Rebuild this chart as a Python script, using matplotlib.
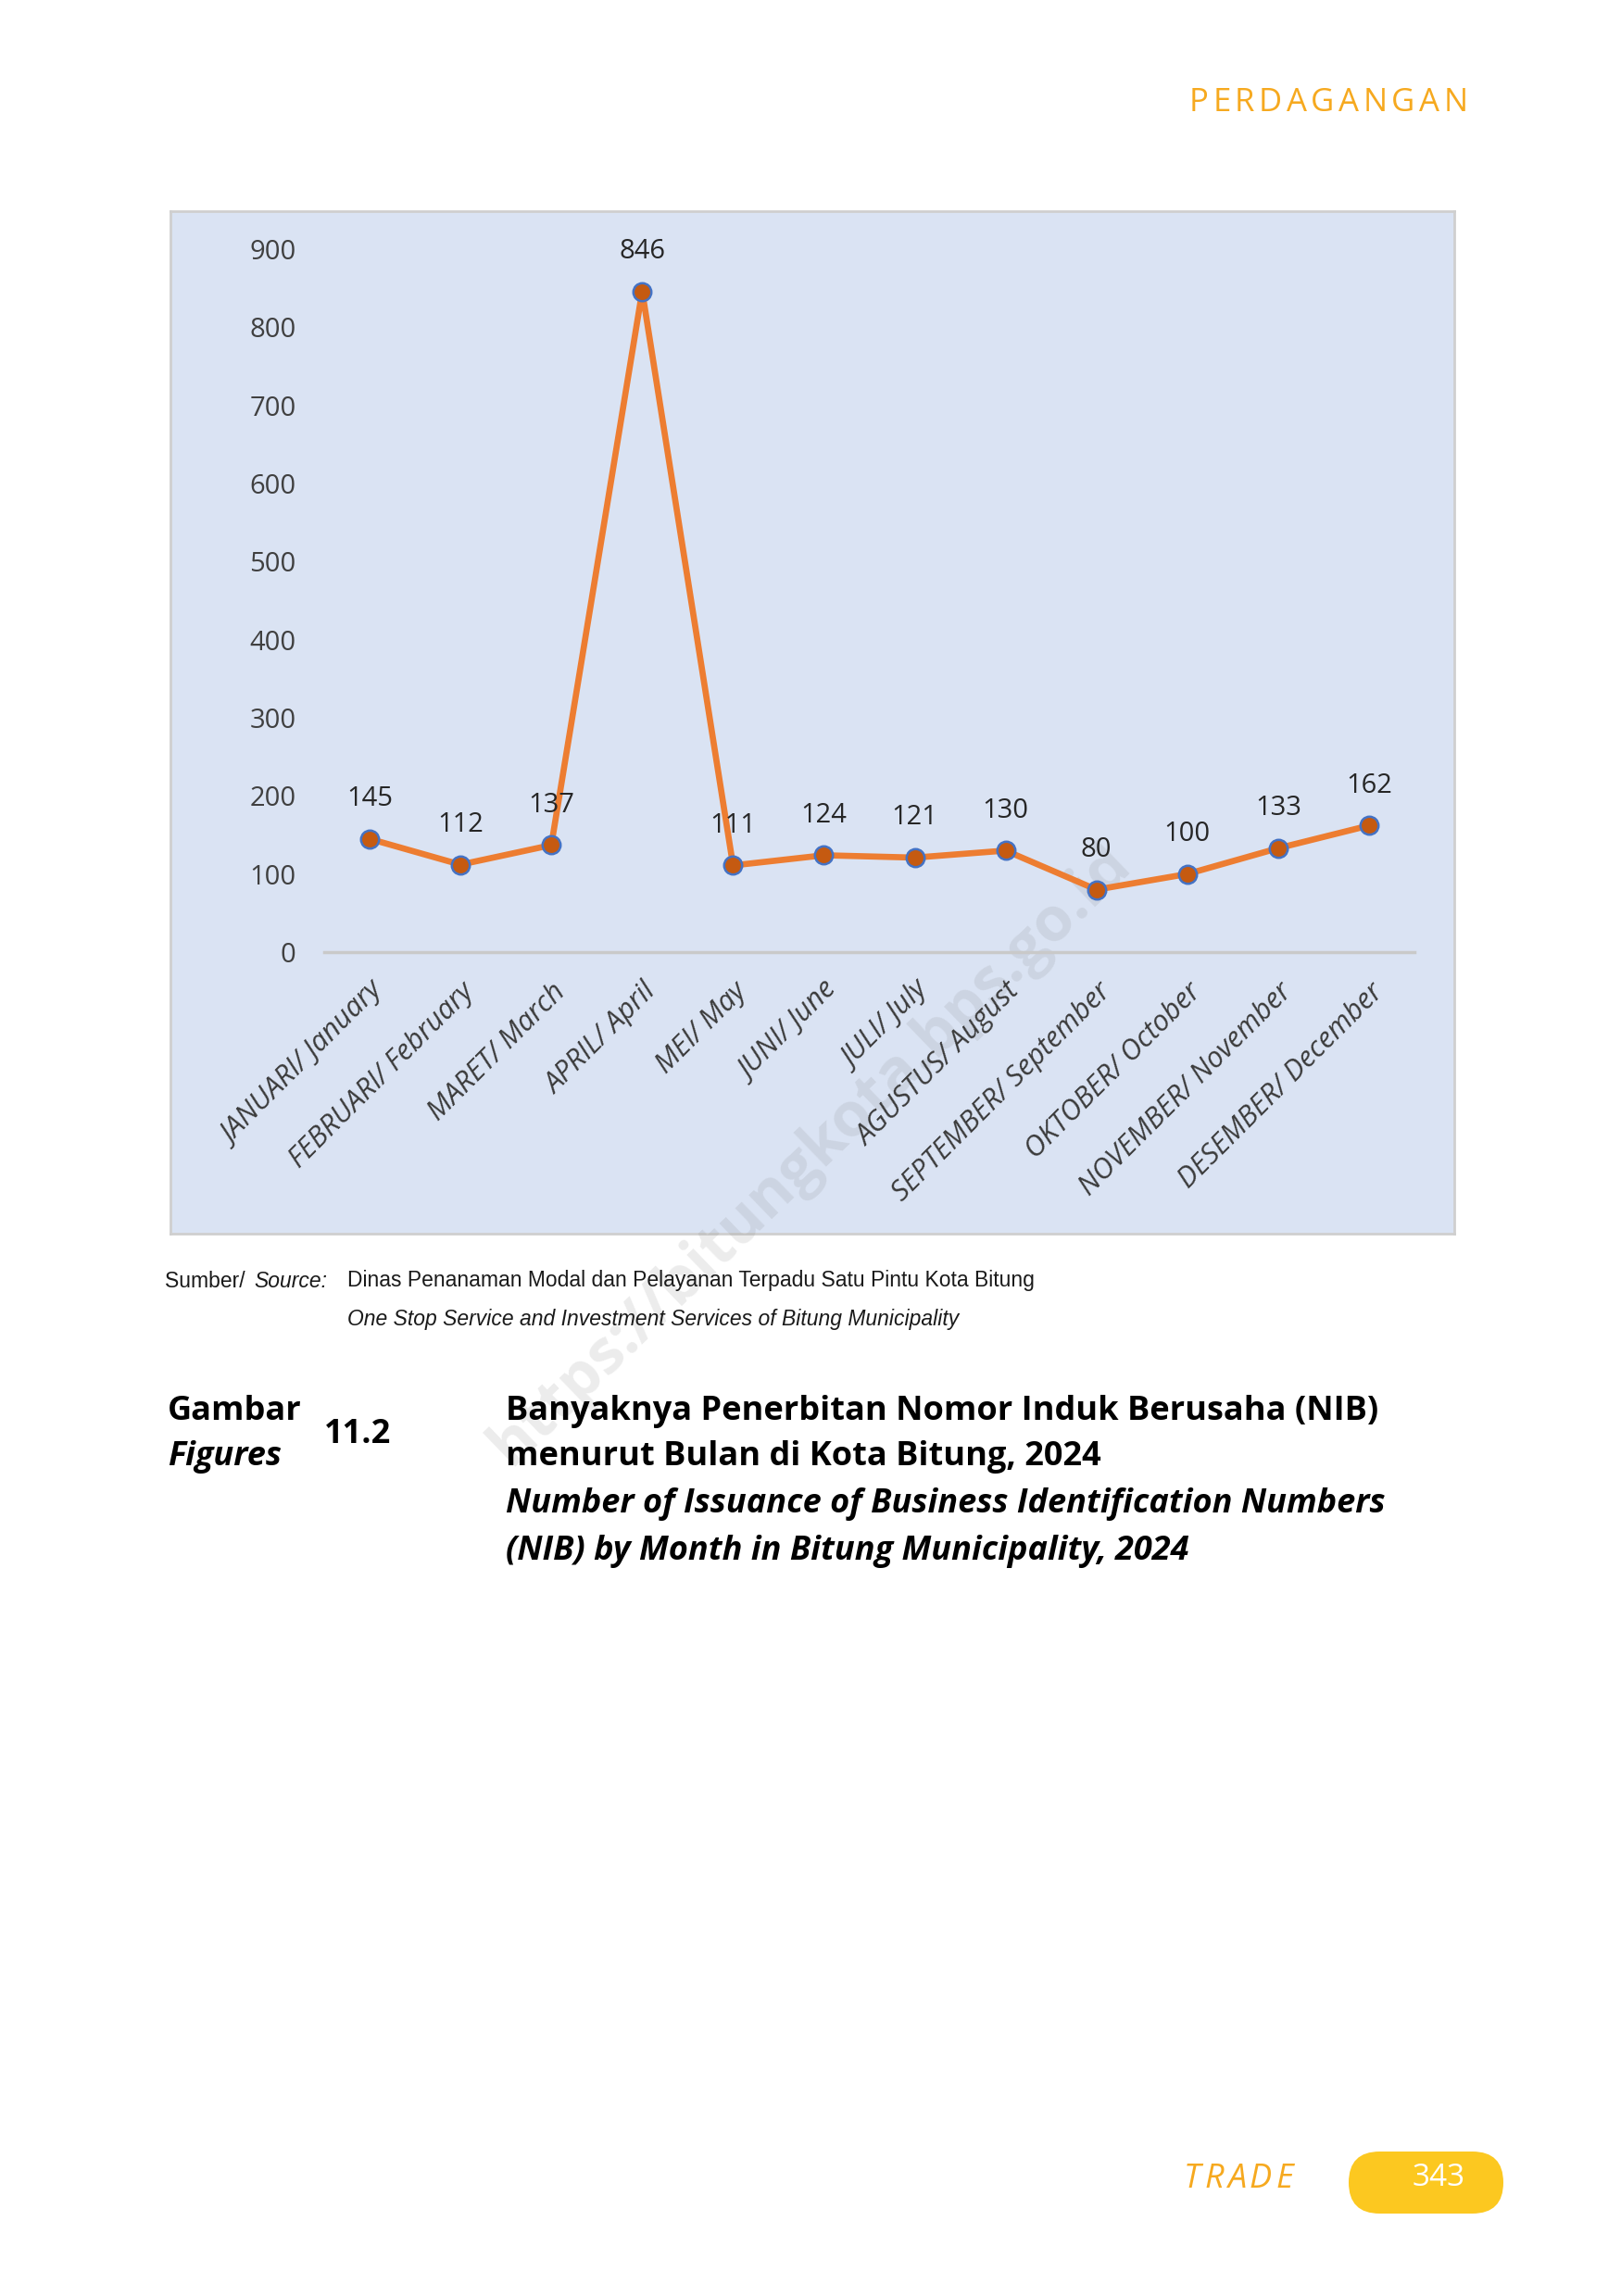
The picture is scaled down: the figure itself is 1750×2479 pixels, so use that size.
import matplotlib
matplotlib.use("Agg")
import matplotlib.pyplot as plt
from matplotlib.patches import FancyBboxPatch

months = ["JANUARI/ January", "FEBRUARI/ February", "MARET/ March", "APRIL/ April",
          "MEI/ May", "JUNI/ June", "JULI/ July", "AGUSTUS/ August",
          "SEPTEMBER/ September", "OKTOBER/ October", "NOVEMBER/ November",
          "DESEMBER/ December"]
nib = [145, 112, 137, 846, 111, 124, 121, 130, 80, 100, 133, 162]
yticks = [0, 100, 200, 300, 400, 500, 600, 700, 800, 900]

W, H = 1750, 2479


def fx(x):
    return x / W


def fy(y):
    return 1 - y / H


def spaced_text(axp, x0, y0, s, gap, **kw):
    # draw letters one by one with extra tracking, left to right
    r = axp.figure.canvas.get_renderer()
    xc = x0
    for ch in s:
        t = axp.text(xc, y0, ch, ha='left', va='center', **kw)
        bb = t.get_window_extent(renderer=r)
        xc += bb.width + gap
    return xc


plt.rcParams['font.family'] = ['Open Sans', 'DejaVu Sans']
fig = plt.figure(figsize=(17.5, 24.79), dpi=100)

# chart background box
bg = fig.add_axes([fx(184), fy(1332), fx(1570) - fx(184), fy(228) - fy(1332)])
bg.set_facecolor('#DAE3F3')
bg.set_xticks([])
bg.set_yticks([])
for s in bg.spines.values():
    s.set_color('#CFCFCF')
    s.set_linewidth(2)
bg.set_zorder(0)

ax = fig.add_axes([fx(350), fy(1028), fx(1527) - fx(350), fy(269) - fy(1028)])
ax.set_zorder(1)
ax.patch.set_visible(False)

x = list(range(len(nib)))
ax.plot(x, nib, color='#ED7D31', lw=4.8, marker='o', markersize=14,
        markerfacecolor='#C55A11', markeredgecolor='#4472C4', markeredgewidth=1.8,
        zorder=3)
for xi, v in zip(x, nib):
    ax.annotate(str(v), (xi, v), xytext=(0, 31), textcoords='offset points',
                ha='center', va='center', fontsize=21, color='#262626')

ax.axhline(0, color='#C9C9C9', lw=2.5, clip_on=False, zorder=2)
ax.set_xlim(-0.5, len(nib) - 0.5)
ax.set_ylim(0, 900)
ax.set_yticks(yticks)
ax.set_yticklabels([str(t) for t in yticks], fontsize=21, color='#404040')
ax.set_xticks(x)
ax.set_xticklabels(months, rotation=45, ha='right', rotation_mode='anchor',
                   fontsize=22, fontstyle='italic', color='#3a3a3a')
ax.tick_params(axis='y', length=0, pad=22)
ax.tick_params(axis='x', length=0, pad=20)
for s in ax.spines.values():
    s.set_visible(False)

# watermark
fig.text(fx(875), fy(1247), "https://bitungkota.bps.go.id", rotation=44,
         ha='center', va='center', fontsize=48, fontweight='bold',
         color='#7F7F7F', alpha=0.15, zorder=0.5)

# overlay in pixel units for the page decorations
page = fig.add_axes([0, 0, 1, 1])
page.set_xlim(0, W)
page.set_ylim(0, H)
page.axis('off')
page.set_zorder(2)
page.patch.set_visible(False)
fig.canvas.draw()

spaced_text(page, 1284, H - 111, "PERDAGANGAN", 4.5, fontsize=25, color='#F6A91F')
spaced_text(page, 1278, H - 2353, "TRADE", 4, fontsize=26, color='#F6A91F',
            fontstyle='italic')
pill = FancyBboxPatch((1456, H - 2390), 167, 67,
                      boxstyle="round,pad=0,rounding_size=33.5",
                      facecolor='#FCC820', edgecolor='none')
page.add_patch(pill)
page.text(1553, H - 2352, "343", ha='center', va='center', fontsize=24,
          color='white')

# source
src = 'Liberation Sans'
t1 = page.text(178, H - 1383, "Sumber/ ", ha='left', va='center', fontsize=16.5,
               family=src, color='#1a1a1a')
bb = t1.get_window_extent(renderer=fig.canvas.get_renderer())
page.text(bb.x1 + 3, H - 1383, "Source:", ha='left', va='center', fontsize=16.5,
          family=src, fontstyle='italic', color='#1a1a1a')
page.text(375, H - 1383, "Dinas Penanaman Modal dan Pelayanan Terpadu Satu Pintu Kota Bitung",
          ha='left', va='center', fontsize=16.5, family=src, color='#1a1a1a')
page.text(375, H - 1424, "One Stop Service and Investment Services of Bitung Municipality",
          ha='left', va='center', fontsize=16.5, family=src, fontstyle='italic',
          color='#1a1a1a')

# caption
page.text(181, H - 1524, "Gambar", ha='left', va='center', fontsize=26,
          fontweight='bold', color='black')
page.text(181, H - 1573, "Figures", ha='left', va='center', fontsize=26,
          fontweight='bold', fontstyle='italic', color='black')
page.text(350, H - 1549, "11.2", ha='left', va='center', fontsize=26,
          fontweight='bold', color='black')
titles = [("Banyaknya Penerbitan Nomor Induk Berusaha (NIB)", 'normal', 1524),
          ("menurut Bulan di Kota Bitung, 2024", 'normal', 1573),
          ("Number of Issuance of Business Identification Numbers", 'italic', 1624),
          ("(NIB) by Month in Bitung Municipality, 2024", 'italic', 1675)]
for t, st, yy in titles:
    page.text(546, H - yy, t, ha='left', va='center', fontsize=26,
              fontweight='bold', fontstyle=st, color='black')

fig.savefig("out.png", dpi=100, facecolor='white')
